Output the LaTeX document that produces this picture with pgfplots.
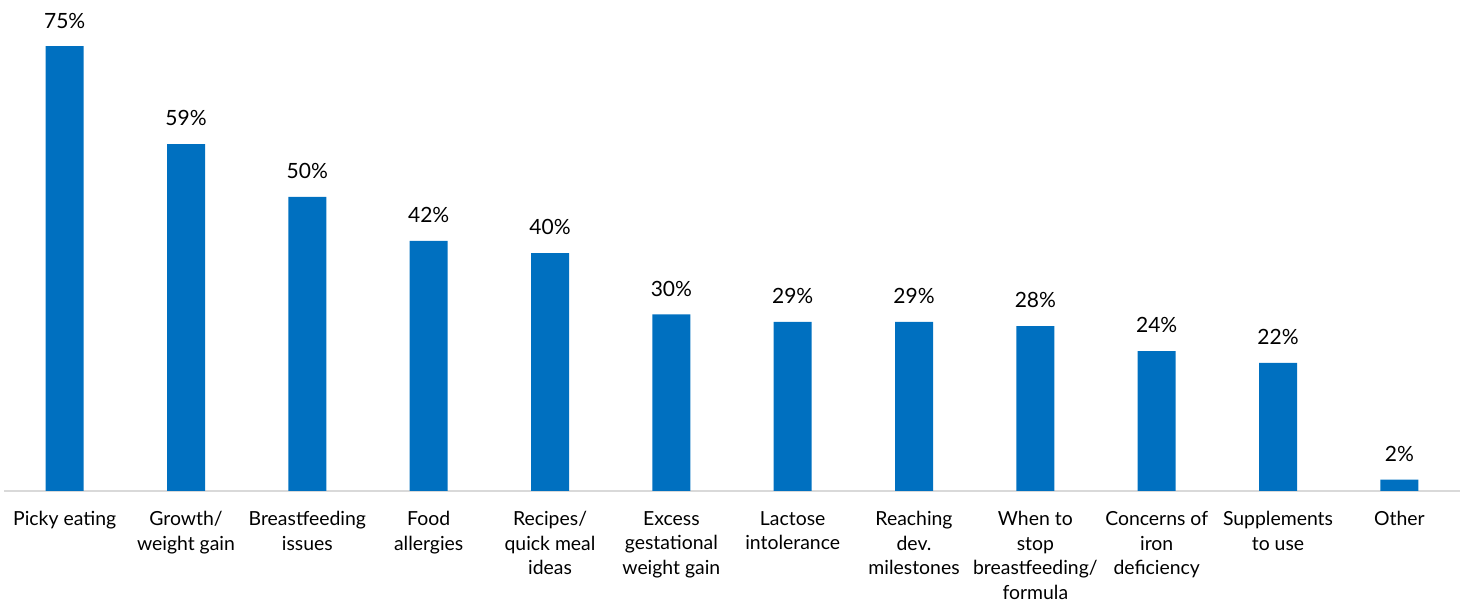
\documentclass[border=0pt]{standalone}
\usepackage{pgfplots}
\pgfplotsset{compat=1.18}
\usepackage{fontspec}
\setmainfont{Lato}
\definecolor{barblue}{HTML}{0070C0}
\definecolor{axisgray}{HTML}{D9D9D9}
\begin{document}
\begin{tikzpicture}
\begin{axis}[
  scale only axis,
  width=728pt, height=245.5pt,
  xmin=-0.5, xmax=11.5,
  ymin=0, ymax=82.8,
  axis x line*=bottom,
  axis y line=none,
  x axis line style={draw=axisgray, line width=1pt},
  xtick=data,
  xtick style={draw=none},
  xticklabels={
    {Picky eating},
    {Growth/\\weight gain},
    {Breastfeeding\\issues},
    {Food\\allergies},
    {Recipes/\\quick meal\\ideas},
    {Excess\\gestational\\weight gain},
    {Lactose\\intolerance},
    {Reaching\\dev.\\milestones},
    {When to\\stop\\breastfeeding/\\formula},
    {Concerns of\\iron\\deficiency},
    {Supplements\\to use},
    {Other}},
  xticklabel style={align=center, anchor=north, yshift=-2.5pt,
    font=\fontsize{9.7}{12.25}\selectfont},
  ybar, bar width=19pt,
  clip=false,
  point meta=explicit symbolic,
  nodes near coords={\pgfplotspointmeta\%},
  every node near coord/.append style={font=\fontsize{10.5}{12.3}\selectfont, black, yshift=5.5pt},
]
\addplot[fill=barblue, draw=none] coordinates {
  (0,75)[75] (1,58.5)[59] (2,49.6)[50] (3,42.2)[42] (4,40.1)[40] (5,29.8)[30]
  (6,28.5)[29] (7,28.5)[29] (8,27.8)[28] (9,23.6)[24] (10,21.6)[22] (11,1.9)[2]
};
\end{axis}
\pgfresetboundingbox
\path (-2pt,-56pt) rectangle (730.5pt,245.5pt);
\end{tikzpicture}
\end{document}
